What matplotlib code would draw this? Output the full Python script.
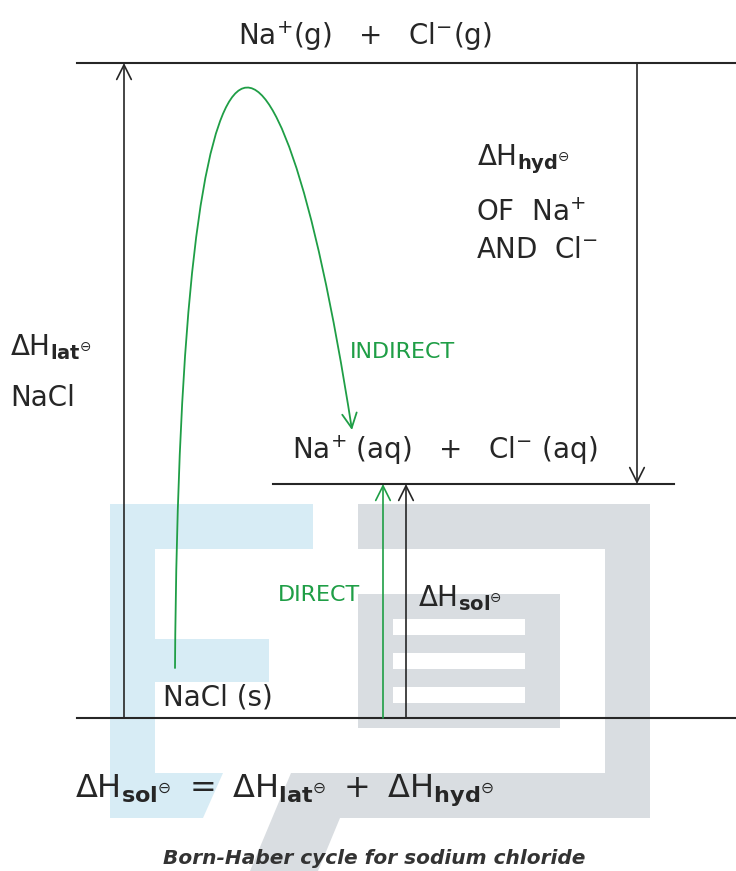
import matplotlib.pyplot as plt
from matplotlib.patches import Polygon, Rectangle, FancyArrowPatch
from matplotlib.path import Path

plt.rcParams['mathtext.fontset'] = 'dejavusans'

# energy levels (pixel rows of the picture) and their horizontal extent
level_y = {'gas': 63, 'aq': 484, 'solid': 718}
level_x = {'gas': (77, 736), 'aq': (273, 674), 'solid': (77, 736)}

# vertical enthalpy arrows: x position
arrow_x = {'lat': 124, 'hyd': 637, 'direct': 383, 'sol': 406}

# indirect route (cubic bezier through the top)
indirect_path = [(175, 668), (180, -60), (276, -60), (352, 430)]

# faint logo behind the diagram
blue_rects = [(110, 504, 45, 280), (110, 504, 203, 45), (155, 639, 114, 43)]
blue_poly = [(110, 773), (223, 773), (203, 818), (110, 818)]
grey_rects = [(358, 504, 292, 45), (605, 504, 45, 314), (358, 594, 202, 134)]
grey_poly = [(291, 773), (650, 773), (650, 818), (340, 818), (318, 871), (250, 871), (291, 773)]
white_stripes = [(393, 619, 132, 16), (393, 653, 132, 16), (393, 687, 132, 16)]

dark = '#262626'
green = '#1f9e46'
fs = 20

fig = plt.figure(figsize=(7.36, 8.71), dpi=100)
ax = fig.add_axes([0, 0, 1, 1])
ax.set_xlim(0, 736)
ax.set_ylim(871, 0)
ax.axis('off')

# watermark
for x, y, w, h in blue_rects:
    ax.add_patch(Rectangle((x, y), w, h, color='#d7ecf5', lw=0, zorder=0))
ax.add_patch(Polygon(blue_poly, closed=True, color='#d7ecf5', lw=0, zorder=0))
for x, y, w, h in grey_rects:
    ax.add_patch(Rectangle((x, y), w, h, color='#d9dde1', lw=0, zorder=0))
ax.add_patch(Polygon(grey_poly, closed=True, color='#d9dde1', lw=0, zorder=0))
for x, y, w, h in white_stripes:
    ax.add_patch(Rectangle((x, y), w, h, color='white', lw=0, zorder=0.5))

# levels
for k, y in level_y.items():
    x0, x1 = level_x[k]
    ax.plot([x0, x1], [y, y], color=dark, lw=1.5, zorder=2)

def varrow(x, y0, y1, c=dark):
    ax.annotate('', xy=(x, y1), xytext=(x, y0),
                arrowprops=dict(arrowstyle='->,head_length=0.7,head_width=0.35',
                                color=c, lw=1.2, shrinkA=0, shrinkB=0,
                                mutation_scale=15), zorder=3)

varrow(arrow_x['lat'], level_y['solid'], level_y['gas'])
varrow(arrow_x['hyd'], level_y['gas'], level_y['aq'])
varrow(arrow_x['direct'], level_y['solid'], level_y['aq'], green)
varrow(arrow_x['sol'], level_y['solid'], level_y['aq'])

# indirect curve
codes = [Path.MOVETO, Path.CURVE4, Path.CURVE4, Path.CURVE4]
ax.add_patch(FancyArrowPatch(path=Path(indirect_path, codes),
                             arrowstyle='->,head_length=0.7,head_width=0.35',
                             mutation_scale=15, color=green, lw=1.3, zorder=3))

# labels
ax.text(365, 45, r'Na$^{+}$(g)   +   Cl$^{-}$(g)', fontsize=fs, ha='center', color=dark)
ax.text(292, 459, r'Na$^{+}$ (aq)   +   Cl$^{-}$ (aq)', fontsize=fs, ha='left', color=dark)
ax.text(477, 165, r'$\Delta\mathrm{H}_{\mathbf{hyd}^{\ominus}}$', fontsize=fs, color=dark)
ax.text(476, 221, r'OF  Na$^{+}$', fontsize=fs, color=dark)
ax.text(476, 258, r'AND  Cl$^{-}$', fontsize=fs, color=dark)
ax.text(10, 355, r'$\Delta\mathrm{H}_{\mathbf{lat}^{\ominus}}$', fontsize=fs, color=dark)
ax.text(10, 406, 'NaCl', fontsize=fs, color=dark)
ax.text(163, 705, 'NaCl (s)', fontsize=fs, color=dark)
ax.text(418, 606, r'$\Delta\mathrm{H}_{\mathbf{sol}^{\ominus}}$', fontsize=fs, color=dark)
ax.text(278, 601, 'DIRECT', fontsize=16, color=green)
ax.text(350, 358, 'INDIRECT', fontsize=16, color=green)
ax.text(75, 797, r'$\Delta\mathrm{H}_{\mathbf{sol}^{\ominus}}\ =\ \Delta\mathrm{H}_{\mathbf{lat}^{\ominus}}\ +\ \Delta\mathrm{H}_{\mathbf{hyd}^{\ominus}}$',
        fontsize=23, color=dark)
ax.text(374, 864, 'Born-Haber cycle for sodium chloride', fontsize=14.5, ha='center',
        family='DejaVu Sans', weight='bold', style='italic', color='#333333')

fig.savefig('out.png', dpi=100)
